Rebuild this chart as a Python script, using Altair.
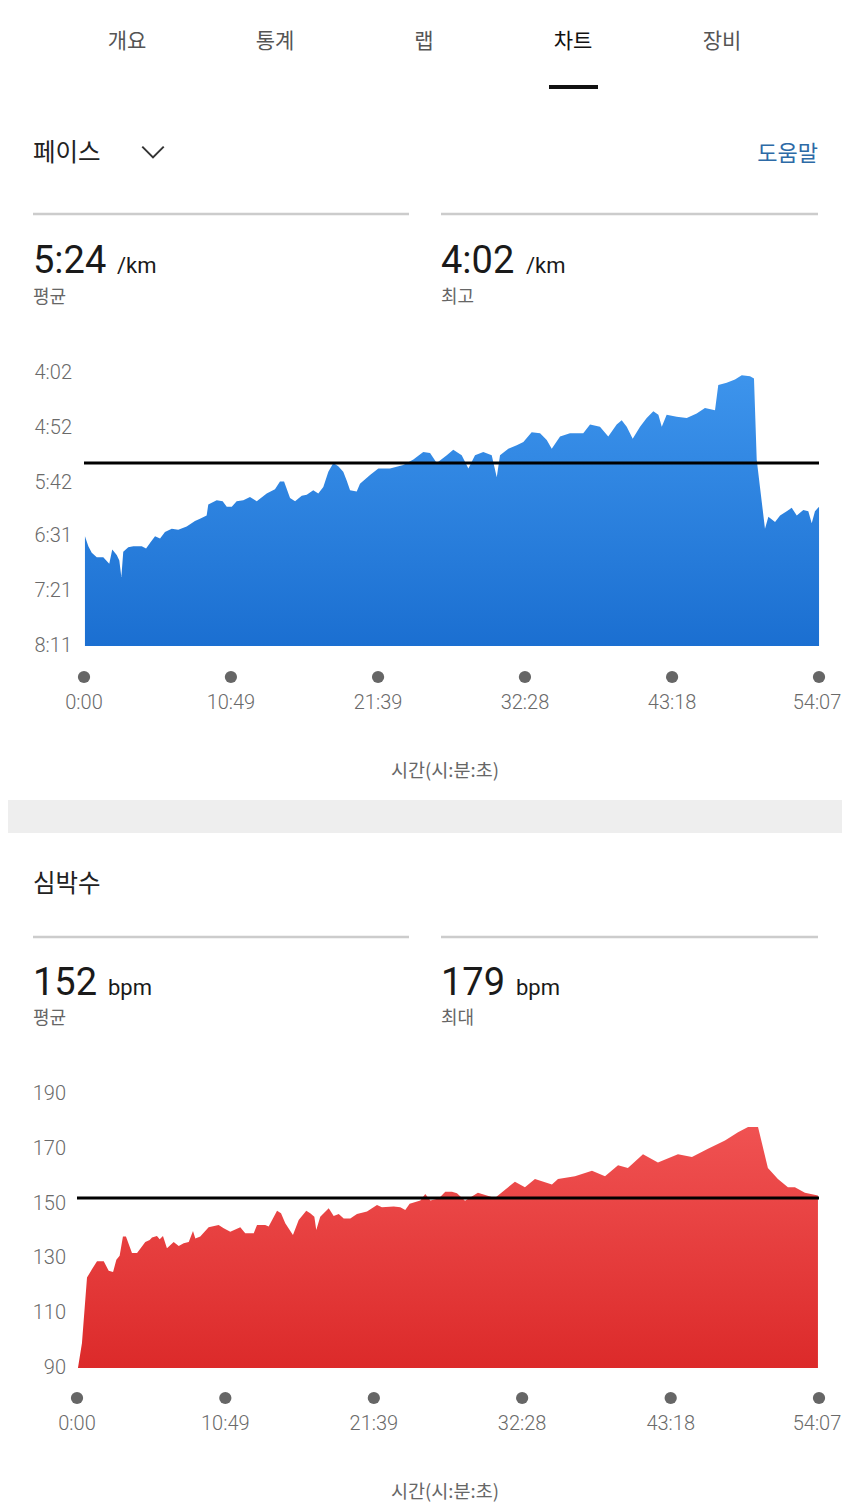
import altair as alt
import pandas as pd

# ---------------- data ----------------
pace_min = [0.07, 0.32, 0.57, 0.94, 1.42, 1.86, 2.08, 2.41, 2.60, 2.75, 2.89, 3.26, 3.63, 4.25,
            4.57, 4.86, 5.23, 5.60, 5.96, 6.46, 6.94, 7.56, 8.17, 8.54, 9.03, 9.15, 9.77, 10.21,
            10.51, 10.88, 11.24, 11.73, 12.22, 12.72, 13.45, 14.06, 14.43, 14.73, 15.17, 15.54,
            16.03, 16.40, 16.88, 17.25, 17.62, 17.99, 18.36, 18.72, 19.09, 19.34, 19.59, 20.08,
            20.32, 21.06, 21.67, 22.53, 23.51, 24.25, 24.98, 25.48, 25.97, 26.71, 27.19, 27.81,
            28.30, 28.79, 29.40, 30.02, 30.39, 30.63, 31.24, 31.86, 32.35, 32.96, 33.58, 34.07,
            34.44, 35.05, 35.78, 36.76, 37.26, 37.99, 38.60, 39.22, 39.59, 39.96, 40.40, 40.94,
            41.43, 41.92, 42.29, 42.54, 42.90, 43.64, 44.38, 45.11, 45.72, 46.46, 46.70, 47.32,
            47.93, 48.43, 49.04, 49.33, 49.53, 49.77, 50.14, 50.39, 50.88, 51.25, 51.74, 52.11,
            52.48, 52.96, 53.33, 53.58, 53.82, 54.12]
pace_sec = [391, 400, 406, 410, 410, 416, 403, 408, 413, 428, 405, 401, 400, 400,
            402, 397, 391, 393, 387, 384, 385, 382, 377, 375, 372, 362, 358, 359,
            364, 364, 359, 358, 355, 359, 352, 348, 341, 341, 356, 359,
            354, 353, 349, 352, 346, 332, 324, 327, 332, 340, 349, 350,
            343, 335, 329, 329, 326, 321, 314, 315, 324, 317, 312, 317,
            329, 317, 314, 317, 337, 317, 311, 308, 305, 296, 297, 303,
            311, 300, 297, 297, 289, 291, 300, 289, 285, 291, 302, 291,
            283, 277, 280, 291, 280, 282, 283, 279, 274, 276, 253, 251,
            248, 244, 245, 247, 321, 346, 384, 373, 378, 372, 368, 365,
            372, 367, 368, 379, 368, 364]

hr_min = [0.07, 0.36, 0.73, 1.09, 1.46, 1.95, 2.31, 2.63, 2.87, 3.11, 3.35, 3.57, 4.01, 4.38,
          4.98, 5.30, 5.47, 5.83, 6.03, 6.27, 6.56, 7.05, 7.42, 7.78, 8.15, 8.46, 8.63, 8.99,
          9.60, 10.33, 10.70, 11.18, 11.91, 12.27, 12.89, 13.13, 13.73, 13.98, 14.59, 14.88,
          15.19, 15.75, 16.17, 16.72, 17.01, 17.31, 17.45, 17.74, 18.36, 18.72, 19.09, 19.45,
          19.93, 20.42, 21.15, 21.88, 22.24, 23.10, 23.58, 23.94, 24.26, 25.04, 25.40, 25.77,
          26.38, 26.86, 27.35, 27.71, 28.30, 29.24, 30.48, 31.94, 32.67, 33.40, 34.64, 35.08,
          36.32, 37.56, 38.51, 39.46, 40.18, 41.28, 42.37, 43.83, 44.85, 46.02, 47.26, 48.21,
          48.94, 49.67, 50.39, 51.12, 51.85, 52.36, 53.09, 54.04]
hr_bpm = [90, 99, 123, 126, 129, 129, 125.5, 125, 129.5, 131, 138, 138, 132, 132,
          136, 136.7, 137.6, 138.2, 137, 138.2, 133.7, 136, 134.5, 135.5, 136, 140, 137.3, 138,
          141.4, 142.2, 141, 139.7, 141.4, 139.2, 139.2, 142.2, 142.2, 141.6, 147.4, 146.5,
          142.8, 138.5, 144, 147.4, 146.5, 145.2, 140.4, 145.2, 148.3, 145.5, 146.2, 144.6,
          144.6, 146.2, 147.1, 149.5, 148.7, 148.9, 148.7, 147.7, 149.9, 151.1, 153.5, 151.1,
          151.9, 154.3, 154.3, 153.8, 151, 154, 152, 158, 156, 159, 157, 159,
          160, 162, 160, 164, 163, 168, 165, 168, 167, 170, 173, 176,
          178, 178, 163, 159, 156, 156, 154, 153]

tick_min = [0, 10.8167, 21.65, 32.4667, 43.3, 54.1167]
tick_lab = ["0:00", "10:49", "21:39", "32:28", "43:18", "54:07"]
pace_ticks = [242, 292, 342, 391, 441, 491]
pace_tick_lab = ["4:02", "4:52", "5:42", "6:31", "7:21", "8:11"]
hr_ticks = [190, 170, 150, 130, 110, 90]
hr_tick_lab = ["190", "170", "150", "130", "110", "90"]
pace_avg = [324]
hr_avg = [152]

# ---------------- helpers ----------------
KR = "Noto Sans CJK KR"
NUM = "Roboto"
OFF = 8  # page margin


def txt(s, x, y, size, color="#222", font=KR, align="left", baseline="middle", weight="normal"):
    return alt.Chart(pd.DataFrame({"t": [s]})).mark_text(
        font=font, fontSize=size, color=color, align=align, baseline=baseline, fontWeight=weight
    ).encode(text="t:N", x=alt.value(x - OFF), y=alt.value(y - OFF))


def hline(x1, x2, y, color, w):
    return alt.Chart(pd.DataFrame({"a": [0]})).mark_rule(color=color, strokeWidth=w).encode(
        x=alt.value(x1 - OFF), x2=alt.value(x2 - OFF), y=alt.value(y - OFF))


blue = alt.Gradient(gradient="linear", x1=0, x2=0, y1=0, y2=1,
                    stops=[alt.GradientStop(color="#3d94ec", offset=0),
                           alt.GradientStop(color="#1b6fd1", offset=1)])
red = alt.Gradient(gradient="linear", x1=0, x2=0, y1=0, y2=1,
                   stops=[alt.GradientStop(color="#f05252", offset=0),
                          alt.GradientStop(color="#dc2a2a", offset=1)])

LBL = dict(font=NUM, fontSize=20, color="#6a6a6a", fontWeight=300)


def panel(xs, ys, xrange, ydomain, yrange, ybase, fill, avg, ylab_vals, ylab_txt, ylab_right,
          dot_y, lab_y):
    xsc = alt.Scale(domain=[0, 54.1167], range=xrange, nice=False, zero=False)
    ysc = alt.Scale(domain=ydomain, range=yrange, nice=False, zero=False)
    df = pd.DataFrame({"m": xs, "v": ys})
    area = alt.Chart(df).mark_area(color=fill, interpolate="linear").encode(
        x=alt.X("m:Q", scale=xsc, axis=None),
        y=alt.Y("v:Q", scale=ysc, axis=None),
        y2=alt.datum(ybase))
    rule = alt.Chart(pd.DataFrame({"v": avg})).mark_rule(color="#000", strokeWidth=3).encode(
        y=alt.Y("v:Q", scale=ysc, axis=None),
        x=alt.value(xrange[0]), x2=alt.value(xrange[1]))
    tdf = pd.DataFrame({"m": tick_min, "lab": tick_lab})
    dots = alt.Chart(tdf).mark_circle(size=150, color="#666", opacity=1).encode(
        x=alt.X("m:Q", scale=xsc, axis=None), y=alt.value(dot_y - OFF))
    xl = alt.Chart(tdf.iloc[:-1]).mark_text(baseline="middle", **LBL).encode(
        x=alt.X("m:Q", scale=xsc, axis=None), y=alt.value(lab_y - OFF), text="lab:N")
    xl_last = alt.Chart(tdf.iloc[-1:]).mark_text(baseline="middle", dx=-2, **LBL).encode(
        x=alt.X("m:Q", scale=xsc, axis=None), y=alt.value(lab_y - OFF), text="lab:N")
    ydf = pd.DataFrame({"v": ylab_vals, "lab": ylab_txt})
    yl = alt.Chart(ydf).mark_text(align="right", baseline="middle", **LBL).encode(
        y=alt.Y("v:Q", scale=ysc, axis=None), x=alt.value(ylab_right - OFF), text="lab:N")
    return alt.layer(area, rule, dots, xl, xl_last, yl)


pace = panel(pace_min, pace_sec, [84 - OFF, 819 - OFF], [242, 491], [373 - OFF, 646 - OFF],
             491, blue, pace_avg, pace_ticks, pace_tick_lab, 72, 677, 703)
hr = panel(hr_min, hr_bpm, [77 - OFF, 819 - OFF], [90, 190], [1368 - OFF, 1094 - OFF],
           90, red, hr_avg, hr_ticks, hr_tick_lab, 66, 1398, 1424)

chev = alt.Chart(pd.DataFrame({"a": [0]})).mark_point(
    shape="M-1,-0.5L0,0.5L1,-0.5", size=460, filled=False, color="#333", strokeWidth=2, opacity=1
).encode(x=alt.value(153 - OFF), y=alt.value(152 - OFF))

band = alt.Chart(pd.DataFrame({"a": [0]})).mark_rect(color="#eeeeee").encode(
    x=alt.value(0), x2=alt.value(834), y=alt.value(800 - OFF), y2=alt.value(833 - OFF))

deco = [
    band,
    txt("개요", 127, 42, 21, "#555", align="center"),
    txt("통계", 275, 42, 21, "#555", align="center"),
    txt("랩", 424, 42, 21, "#555", align="center"),
    txt("차트", 573, 42, 21, "#111", align="center"),
    txt("장비", 722, 42, 21, "#555", align="center"),
    hline(549, 598, 87, "#111", 4),
    txt("페이스", 33, 154, 24.5, "#222"),
    chev,
    txt("도움말", 818, 154, 22, "#2d6aa6", align="right"),
    hline(33, 409, 214, "#cccccc", 2.5),
    hline(441, 818, 214, "#cccccc", 2.5),
    txt("5:24", 33, 273, 38, "#1a1a1a", font=NUM, baseline="alphabetic"),
    txt("/km", 117, 273, 22, "#1a1a1a", font=NUM, baseline="alphabetic"),
    txt("평균", 33, 298, 18, "#666"),
    txt("4:02", 441, 273, 38, "#1a1a1a", font=NUM, baseline="alphabetic"),
    txt("/km", 526, 273, 22, "#1a1a1a", font=NUM, baseline="alphabetic"),
    txt("최고", 441, 298, 18, "#666"),
    txt("시간(시:분:초)", 445, 771, 18.5, "#666", align="center"),
    txt("심박수", 33, 885, 24.5, "#222"),
    hline(33, 409, 937, "#cccccc", 2.5),
    hline(441, 818, 937, "#cccccc", 2.5),
    txt("152", 33, 995, 38, "#1a1a1a", font=NUM, baseline="alphabetic"),
    txt("bpm", 108, 995, 22, "#1a1a1a", font=NUM, baseline="alphabetic"),
    txt("평균", 33, 1019, 18, "#666"),
    txt("179", 441, 995, 38, "#1a1a1a", font=NUM, baseline="alphabetic"),
    txt("bpm", 516, 995, 22, "#1a1a1a", font=NUM, baseline="alphabetic"),
    txt("최대", 441, 1019, 18, "#666"),
    txt("시간(시:분:초)", 445, 1492, 18.5, "#666", align="center"),
]

chart = alt.layer(pace, hr, *deco).resolve_scale(x="independent", y="independent").properties(
    width=834, height=1496, padding=0, autosize=alt.AutoSizeParams(type="none")
).configure_view(stroke=None)

chart.save("out.html", embed_options={"renderer": "svg", "actions": False})
